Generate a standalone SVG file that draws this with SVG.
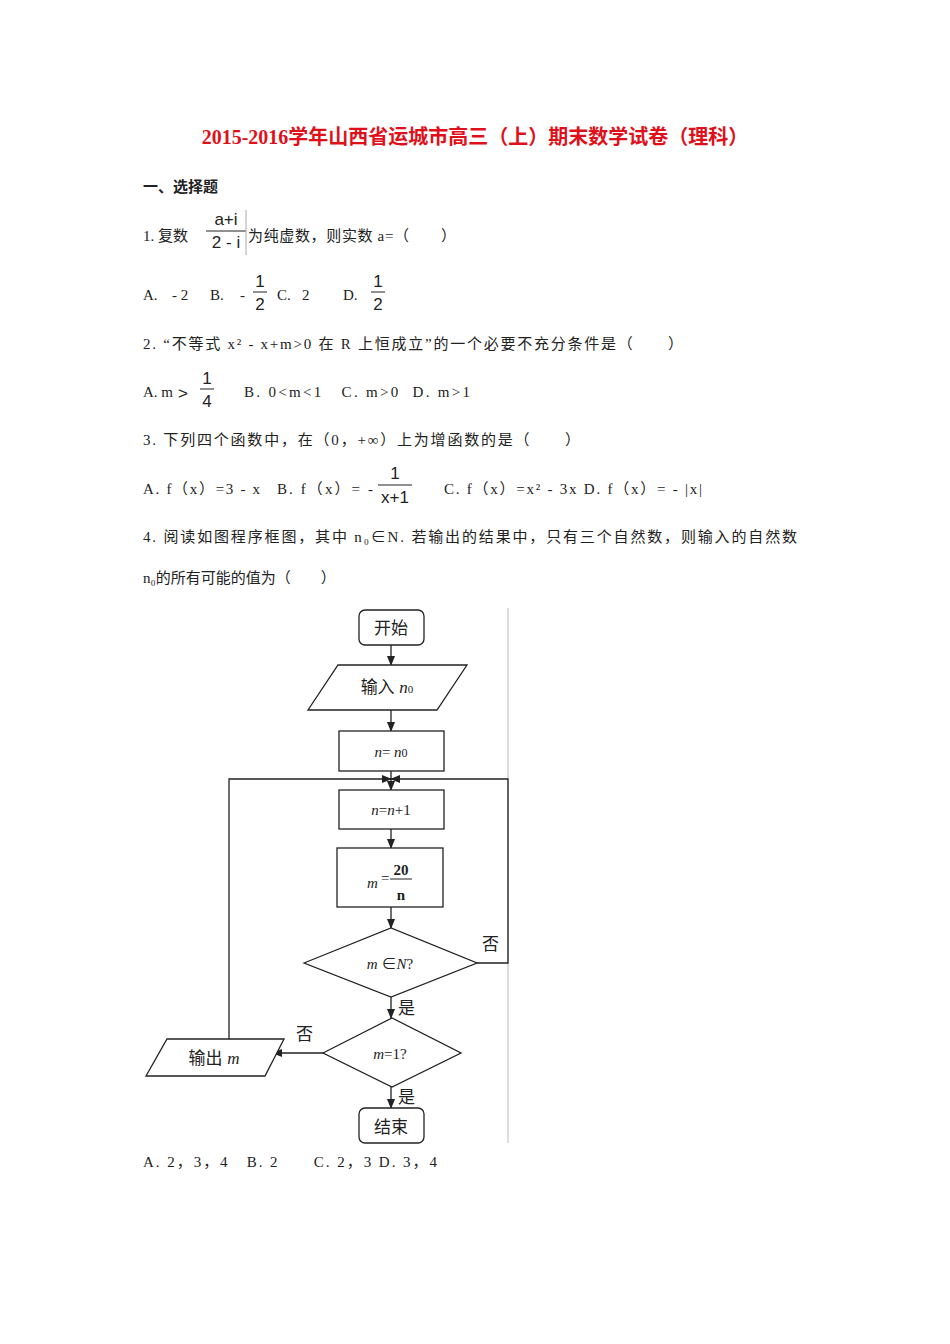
<svg xmlns="http://www.w3.org/2000/svg" width="950" height="1344" viewBox="0 0 950 1344">
<style>
text{font-family:"Liberation Serif","Noto Sans CJK SC",serif;font-size:15px;fill:#222;white-space:pre}
.t{font-family:"Liberation Serif","Noto Sans CJK SC",serif;font-size:20px;font-weight:bold;fill:#e0101a}
.s{font-family:"Liberation Sans","Noto Sans CJK SC",sans-serif;font-size:17px}
.m{font-style:italic}
.n{fill:#fff;stroke:#222;stroke-width:1.3}
.c{fill:none;stroke:#222;stroke-width:1.3}
</style>
<defs><marker id="a" markerWidth="10" markerHeight="10" refX="9" refY="5" orient="auto" markerUnits="userSpaceOnUse"><path d="M0,1 L10,5 L0,9 Z" fill="#222"/></marker></defs>
<rect width="950" height="1344" fill="#fff"/>
<text class="t" x="475" y="144" text-anchor="middle">2015-2016学年山西省运城市高三（上）期末数学试卷（理科）</text>
<text x="143" y="192" font-weight="bold">一、选择题</text>
<text x="143" y="241">1. 复数</text>
<text class="s" x="226" y="225" text-anchor="middle">a+i</text>
<line x1="206" y1="231" x2="246" y2="231" stroke="#222"/>
<text class="s" x="226" y="248" text-anchor="middle">2 - i</text>
<line x1="246" y1="210" x2="246" y2="255" stroke="#aaa"/>
<text x="248" y="241" textLength="208">为纯虚数，则实数 a=（　　）</text>
<text x="143" y="300">A.</text><text x="172" y="300">- 2</text><text x="210" y="300">B.</text><text x="240" y="300">-</text>
<text class="s" x="260" y="287" text-anchor="middle">1</text>
<line x1="253" y1="292" x2="267" y2="292" stroke="#222"/>
<text class="s" x="260" y="310" text-anchor="middle">2</text>
<text x="277" y="300">C.</text><text x="302" y="300">2</text><text x="343" y="300">D.</text>
<text class="s" x="378" y="287" text-anchor="middle">1</text>
<line x1="371" y1="292" x2="385" y2="292" stroke="#222"/>
<text class="s" x="378" y="310" text-anchor="middle">2</text>
<text x="143" y="349" textLength="540">2. “不等式 x² - x+m&gt;0 在 R 上恒成立”的一个必要不充分条件是（　　）</text>
<text x="143" y="397">A. m</text>
<text class="s" x="178" y="399" font-size="24">&gt;</text>
<text class="s" x="207" y="384" text-anchor="middle">1</text>
<line x1="200" y1="389" x2="214" y2="389" stroke="#222"/>
<text class="s" x="207" y="407" text-anchor="middle">4</text>
<text x="244" y="397" textLength="226">B. 0&lt;m&lt;1   C. m&gt;0  D. m&gt;1</text>
<text x="143" y="445" textLength="437">3. 下列四个函数中，在（0，+∞）上为增函数的是（　　）</text>
<text x="143" y="494" textLength="117">A. f（x）=3 - x</text>
<text x="277" y="494" textLength="96">B. f（x）= -</text>
<text class="s" x="395" y="479" text-anchor="middle">1</text>
<line x1="378" y1="485" x2="412" y2="485" stroke="#222"/>
<text class="s" x="395" y="503" text-anchor="middle">x+1</text>
<text x="444" y="494" textLength="258">C. f（x）=x² - 3x D. f（x）= - |x|</text>
<text x="143" y="542" textLength="654">4. 阅读如图程序框图，其中 n₀∈N. 若输出的结果中，只有三个自然数，则输入的自然数</text>
<text x="143" y="583">n₀的所有可能的值为（　　）</text>
<line x1="508" y1="608" x2="508" y2="1143" stroke="#bbb"/>
<g id="connectors">
<line class="c" x1="391" y1="645" x2="391" y2="665" marker-end="url(#a)"/>
<line class="c" x1="391" y1="710" x2="391" y2="731" marker-end="url(#a)"/>
<line class="c" x1="391" y1="771" x2="391" y2="790" marker-end="url(#a)"/>
<line class="c" x1="391" y1="829" x2="391" y2="848" marker-end="url(#a)"/>
<line class="c" x1="391" y1="907" x2="391" y2="928" marker-end="url(#a)"/>
<line class="c" x1="391" y1="997" x2="391" y2="1018" marker-end="url(#a)"/>
<line class="c" x1="391" y1="1087" x2="391" y2="1108" marker-end="url(#a)"/>
<polyline class="c" points="477,963 508,963 508,779 391,779" marker-end="url(#a)"/>
<polyline class="c" points="229,1039 229,779 391,779" marker-end="url(#a)"/>
<line class="c" x1="323" y1="1053" x2="273" y2="1053" marker-end="url(#a)"/>
<text x="482" y="950" class="s">否</text>
<text x="398" y="1014" class="s">是</text>
<text x="296" y="1040" class="s">否</text>
<text x="398" y="1103" class="s">是</text>
</g>
<g id="start"><rect class="n" x="359" y="610" width="65" height="35" rx="6"/><text class="s" x="391" y="634" text-anchor="middle">开始</text></g>
<g id="input"><polygon class="n" points="338,665 467,665 437,710 308,710"/><text class="s" x="387" y="693" text-anchor="middle">输入 <tspan class="m" font-family="Liberation Serif">n</tspan><tspan font-size="11" font-family="Liberation Serif">0</tspan></text></g>
<g id="assign"><rect class="n" x="339" y="731" width="105" height="40"/><text x="391" y="757" text-anchor="middle" font-size="17"><tspan class="m">n</tspan>= <tspan class="m">n</tspan><tspan font-size="12">0</tspan></text></g>
<g id="inc"><rect class="n" x="339" y="790" width="105" height="39"/><text x="391" y="815" text-anchor="middle" font-size="17"><tspan class="m">n</tspan>=<tspan class="m">n</tspan>+1</text></g>
<g id="calc"><rect class="n" x="337" y="848" width="106" height="59"/><text x="367" y="888" font-size="17" class="m">m</text><text x="381" y="883" font-size="17">=</text><text x="401" y="875" font-size="15" font-weight="bold" text-anchor="middle">20</text><line x1="390" y1="879" x2="412" y2="879" stroke="#222"/><text x="401" y="900" font-size="15" font-weight="bold" text-anchor="middle">n</text></g>
<g id="cond1"><polygon class="n" points="304,963 391,928 477,963 391,997"/><text x="390" y="969" text-anchor="middle" font-size="17"><tspan class="m">m</tspan> ∈<tspan class="m">N</tspan>?</text></g>
<g id="cond2"><polygon class="n" points="323,1053 392,1018 461,1053 392,1087"/><text x="390" y="1059" text-anchor="middle" font-size="17"><tspan class="m">m</tspan>=1?</text></g>
<g id="output"><polygon class="n" points="167,1039 284,1039 265,1076 146,1076"/><text class="s" x="214" y="1064" text-anchor="middle">输出 <tspan class="m" font-family="Liberation Serif">m</tspan></text></g>
<g id="end"><rect class="n" x="359" y="1108" width="65" height="35" rx="6"/><text class="s" x="391" y="1133" text-anchor="middle">结束</text></g>
<text x="143" y="1167" textLength="294">A. 2，3，4   B. 2      C. 2，3 D. 3，4</text>
</svg>
